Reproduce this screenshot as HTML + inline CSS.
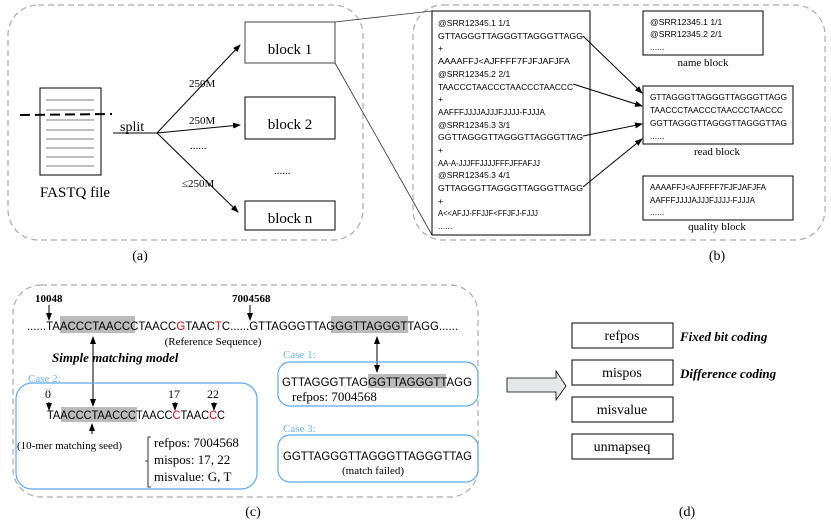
<!DOCTYPE html>
<html><head><meta charset="utf-8"><style>
html,body{margin:0;padding:0;background:#fff;}
svg{display:block;}
.s{font-family:"Liberation Sans",sans-serif;}
.r{font-family:"Liberation Serif",serif;}
</style></head><body>
<svg width="831" height="525" viewBox="0 0 831 525" xmlns="http://www.w3.org/2000/svg">
<defs>
<marker id="a" markerWidth="8" markerHeight="6" refX="7" refY="3" orient="auto" markerUnits="userSpaceOnUse"><path d="M0,0 L8,3 L0,6 z" fill="#000"/></marker>
<marker id="b" markerWidth="8" markerHeight="6" refX="1" refY="3" orient="auto" markerUnits="userSpaceOnUse"><path d="M8,0 L0,3 L8,6 z" fill="#000"/></marker>
</defs>
<g fill="none" stroke="#aaa" stroke-width="1.2" stroke-dasharray="6,4">
<rect x="8" y="5" width="355" height="235" rx="30"/>
<rect x="413" y="5" width="412" height="235" rx="30"/>
<rect x="13" y="285" width="465" height="212" rx="28"/>
</g>
<!-- panel a -->
<rect x="40" y="88" width="61" height="87" fill="#fff" stroke="#000"/>
<g stroke="#555" stroke-width="0.8">
<line x1="46" y1="100" x2="94" y2="100"/><line x1="46" y1="110" x2="94" y2="110"/>
<line x1="46" y1="120" x2="94" y2="120"/><line x1="46" y1="130" x2="94" y2="130"/>
<line x1="46" y1="139" x2="94" y2="139"/><line x1="46" y1="148" x2="94" y2="148"/>
<line x1="46" y1="157" x2="94" y2="157"/><line x1="46" y1="166" x2="94" y2="166"/>
</g>
<line x1="20" y1="115" x2="112" y2="114" stroke="#000" stroke-width="2" stroke-dasharray="10,5"/>
<text x="75" y="197" class="r" font-size="15" text-anchor="middle">FASTQ file</text>
<line x1="113" y1="133" x2="157" y2="133" stroke="#000"/>
<text x="120" y="131" class="r" font-size="14">split</text>
<g stroke="#000" marker-end="url(#a)">
<line x1="157" y1="133" x2="240" y2="45"/>
<line x1="157" y1="133" x2="240" y2="125"/>
<line x1="157" y1="133" x2="238" y2="212"/>
</g>
<g class="r" font-size="11">
<text x="189" y="87">250M</text><text x="189" y="124">250M</text>
<text x="190" y="149">......</text><text x="274" y="174">......</text>
<text x="182" y="187">≤250M</text>
</g>
<g fill="#fff" stroke="#000">
<rect x="245" y="22" width="90" height="41" stroke="#444"/>
<rect x="245" y="97" width="90" height="42"/>
<rect x="245" y="201" width="90" height="29"/>
</g>
<g class="r" font-size="15" text-anchor="middle">
<text x="290" y="54">block 1</text><text x="290" y="129">block 2</text><text x="290" y="223">block n</text>
</g>
<text x="140" y="260" class="r" font-size="14" text-anchor="middle">(a)</text>
<line x1="335" y1="22" x2="432" y2="11" stroke="#333" stroke-width="0.8"/>
<line x1="335" y1="63" x2="432" y2="235" stroke="#333" stroke-width="0.8"/>
<!-- panel b -->
<rect x="432" y="11" width="158" height="224" fill="#fff" stroke="#000"/>
<g class="s" font-size="8.6">
<text x="438" y="26">@SRR12345.1 1/1</text>
<text x="438" y="39" textLength="145" lengthAdjust="spacingAndGlyphs">GTTAGGGTTAGGGTTAGGGTTAGG</text>
<text x="438" y="51">+</text>
<text x="438" y="64" textLength="132" lengthAdjust="spacingAndGlyphs">AAAAFFJ&lt;AJFFFF7FJFJAFJFA</text>
<text x="438" y="77">@SRR12345.2 2/1</text>
<text x="438" y="90" textLength="135" lengthAdjust="spacingAndGlyphs">TAACCCTAACCCTAACCCTAACCC</text>
<text x="438" y="102">+</text>
<text x="438" y="115" textLength="107" lengthAdjust="spacingAndGlyphs">AAFFFJJJJAJJJFJJJJ-FJJJA</text>
<text x="438" y="128">@SRR12345.3 3/1</text>
<text x="438" y="140" textLength="145" lengthAdjust="spacingAndGlyphs">GGTTAGGGTTAGGGTTAGGGTTAG</text>
<text x="438" y="153">+</text>
<text x="438" y="166" textLength="102" lengthAdjust="spacingAndGlyphs">AA-A-JJJFFJJJJFFFJFFAFJJ</text>
<text x="438" y="178">@SRR12345.3 4/1</text>
<text x="438" y="191" textLength="145" lengthAdjust="spacingAndGlyphs">GTTAGGGTTAGGGTTAGGGTTAGG</text>
<text x="438" y="204">+</text>
<text x="438" y="216" textLength="100" lengthAdjust="spacingAndGlyphs">A&lt;&lt;AFJJ-FFJJF&lt;FFJFJ-FJJJ</text>
<text x="438" y="229">......</text>
</g>
<rect x="643" y="11" width="120" height="44" fill="#fff" stroke="#000"/>
<g class="s" font-size="8.6">
<text x="650" y="25">@SRR12345.1 1/1</text>
<text x="650" y="37">@SRR12345.2 2/1</text>
<text x="650" y="50">......</text>
</g>
<text x="703" y="66" class="r" font-size="11" text-anchor="middle">name block</text>
<rect x="643" y="86" width="150" height="58" fill="#fff" stroke="#000"/>
<g class="s" font-size="8.6">
<text x="650" y="100" textLength="137" lengthAdjust="spacingAndGlyphs">GTTAGGGTTAGGGTTAGGGTTAGG</text>
<text x="650" y="113" textLength="133" lengthAdjust="spacingAndGlyphs">TAACCCTAACCCTAACCCTAACCC</text>
<text x="650" y="126" textLength="137" lengthAdjust="spacingAndGlyphs">GGTTAGGGTTAGGGTTAGGGTTAG</text>
<text x="650" y="139">......</text>
</g>
<text x="717" y="155" class="r" font-size="11" text-anchor="middle">read block</text>
<rect x="643" y="176" width="150" height="44" fill="#fff" stroke="#000"/>
<g class="s" font-size="8.6">
<text x="650" y="190" textLength="116" lengthAdjust="spacingAndGlyphs">AAAAFFJ&lt;AJFFFF7FJFJAFJFA</text>
<text x="650" y="203" textLength="105" lengthAdjust="spacingAndGlyphs">AAFFFJJJJAJJJFJJJJ-FJJJA</text>
<text x="650" y="215">......</text>
</g>
<text x="717" y="230" class="r" font-size="11" text-anchor="middle">quality block</text>
<g stroke="#000" marker-end="url(#a)">
<line x1="583" y1="36" x2="642" y2="93"/>
<line x1="573" y1="84" x2="642" y2="106"/>
<line x1="583" y1="136" x2="642" y2="124"/>
<line x1="583" y1="187" x2="642" y2="139"/>
</g>
<text x="717" y="260" class="r" font-size="14" text-anchor="middle">(b)</text>
<!-- panel c -->
<rect x="60" y="316" width="75" height="17" fill="#bbb"/>
<rect x="331" y="316" width="77" height="17" fill="#bbb"/>
<g class="r" font-size="11" font-weight="bold">
<text x="35" y="302">10048</text><text x="232" y="302">7004568</text>
</g>
<g stroke="#000" marker-end="url(#a)">
<line x1="49" y1="305" x2="49" y2="320"/>
<line x1="250" y1="305" x2="250" y2="320"/>
</g>
<text x="27" y="330" class="s" font-size="12" textLength="431" lengthAdjust="spacingAndGlyphs">......TAACCCTAACCCTAACC<tspan fill="#e00">G</tspan>TAAC<tspan fill="#e00">T</tspan>C......GTTAGGGTTAGGGTTAGGGTTAGG......</text>
<text x="213" y="345" class="r" font-size="11" text-anchor="middle">(Reference Sequence)</text>
<text x="52" y="362" class="r" font-size="13" font-weight="bold" font-style="italic">Simple matching model</text>
<line x1="93" y1="337" x2="93" y2="406" stroke="#000" marker-start="url(#b)" marker-end="url(#a)"/>
<line x1="377" y1="337" x2="377" y2="372" stroke="#000" marker-start="url(#b)" marker-end="url(#a)"/>
<text x="28" y="382" class="r" font-size="11" fill="#6ab0f0">Case 2:</text>
<rect x="16" y="383" width="241" height="106" rx="16" fill="none" stroke="#5aabf0" stroke-width="1.2"/>
<g class="r" font-size="12"><text x="45" y="398">0</text><text x="168" y="398">17</text><text x="207" y="398">22</text></g>
<g stroke="#000" marker-end="url(#a)">
<line x1="49" y1="402" x2="49" y2="410"/><line x1="175" y1="402" x2="175" y2="410"/><line x1="214" y1="402" x2="214" y2="410"/>
</g>
<rect x="61" y="407" width="76" height="15" fill="#bbb"/>
<text x="47" y="419" class="s" font-size="12" textLength="178" lengthAdjust="spacingAndGlyphs">TAACCCTAACCCTAACC<tspan fill="#e00">C</tspan>TAAC<tspan fill="#e00">C</tspan>C</text>
<line x1="92" y1="434" x2="92" y2="424" stroke="#000" marker-end="url(#a)"/>
<text x="17" y="449" class="r" font-size="11">(10-mer matching seed)</text>
<path d="M151,437 L148,437 L148,487 L151,487 M148,461 L145,461" fill="none" stroke="#000" stroke-width="0.8"/>
<g class="r" font-size="13"><text x="154" y="447">refpos: 7004568</text><text x="154" y="464">mispos: 17, 22</text><text x="154" y="481">misvalue: G, T</text></g>
<text x="283" y="358" class="r" font-size="11" fill="#6ab0f0">Case 1:</text>
<rect x="278" y="362" width="200" height="44" rx="12" fill="none" stroke="#5aabf0" stroke-width="1.2"/>
<rect x="368" y="374" width="78" height="14" fill="#bbb"/>
<text x="282" y="386" class="s" font-size="12" textLength="190" lengthAdjust="spacingAndGlyphs">GTTAGGGTTAGGGTTAGGGTTAGG</text>
<text x="292" y="401" class="r" font-size="13">refpos: 7004568</text>
<text x="283" y="432" class="r" font-size="11" fill="#6ab0f0">Case 3:</text>
<rect x="278" y="435" width="200" height="47" rx="12" fill="none" stroke="#5aabf0" stroke-width="1.2"/>
<text x="283" y="460" class="s" font-size="12" textLength="189" lengthAdjust="spacingAndGlyphs">GGTTAGGGTTAGGGTTAGGGTTAG</text>
<text x="373" y="474" class="r" font-size="11" text-anchor="middle">(match failed)</text>
<text x="253" y="516" class="r" font-size="14" text-anchor="middle">(c)</text>
<!-- panel d -->
<path d="M507,378 L556,378 L556,371 L566,386 L556,400 L556,392 L507,392 Z" fill="#e4e8e8" stroke="#000" stroke-width="0.8"/>
<g fill="#fff" stroke="#000">
<rect x="572" y="323" width="101" height="25"/><rect x="572" y="360" width="101" height="25"/>
<rect x="572" y="397" width="101" height="25"/><rect x="572" y="434" width="101" height="25"/>
</g>
<g class="r" font-size="14" text-anchor="middle">
<text x="622" y="340">refpos</text><text x="622" y="377">mispos</text><text x="622" y="414">misvalue</text><text x="622" y="451">unmapseq</text>
</g>
<g class="r" font-size="13" font-weight="bold" font-style="italic">
<text x="680" y="341">Fixed bit coding</text><text x="680" y="378">Difference coding</text>
</g>
<text x="687" y="516" class="r" font-size="14" text-anchor="middle">(d)</text>
</svg>
</body></html>
